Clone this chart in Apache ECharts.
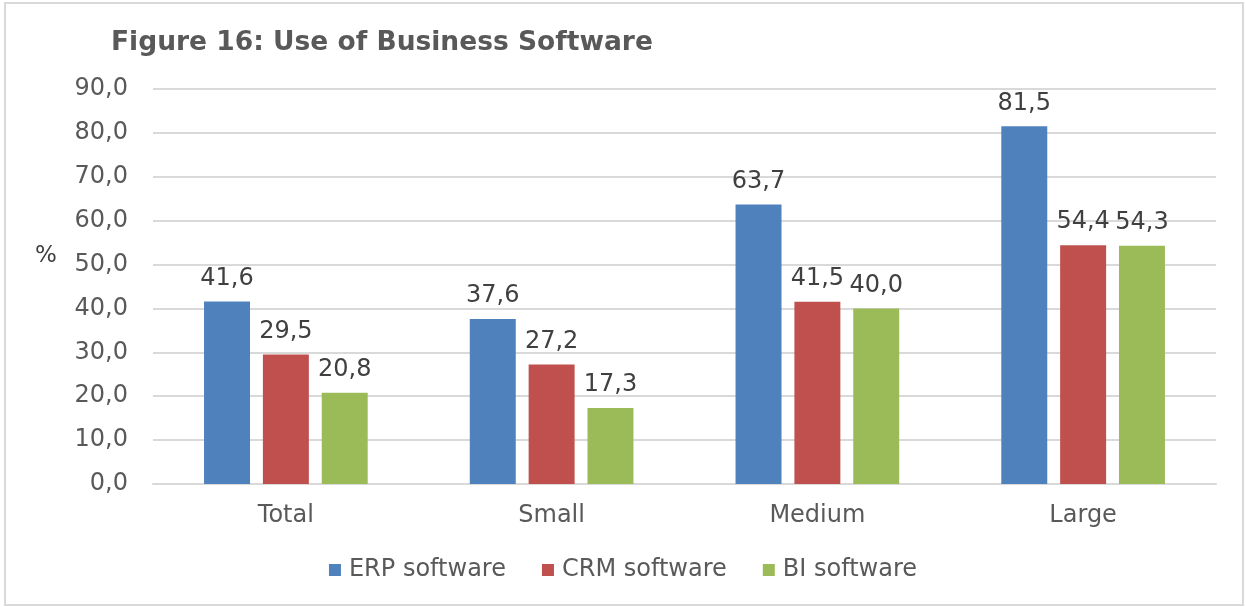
<!DOCTYPE html>
<html lang="en">
<head>
  <meta charset="UTF-8">
  <title>Use of Business Software</title>
  <script src="https://cdn.jsdelivr.net/npm/echarts@6/dist/echarts.min.js"></script>
  <style>
    html, body { margin: 0; padding: 0; background: #fff; }
    #chart { width: 1246px; height: 607px; }
    #frame { position: absolute; left: 4px; top: 2px; width: 1236px; height: 600px; border: 2px solid #d9d9d9; pointer-events: none; }
  </style>
</head>
<body>
  <div id="chart"></div>
  <div id="frame"></div>
  <script>
    // 数据
    var categories = ['Total', 'Small', 'Medium', 'Large'];
    var erpValues = [41.6, 37.6, 63.7, 81.5];
    var crmValues = [29.5, 27.2, 41.5, 54.4];
    var biValues = [20.8, 17.3, 40.0, 54.3];
    var seriesNames = ['ERP software', 'CRM software', 'BI software'];

    var font = "'DejaVu Sans', Verdana, sans-serif";
    function comma(v) { return Number(v).toFixed(1).replace('.', ','); }

    function bar(name, data, color) {
      return {
        name: name,
        type: 'bar',
        data: data,
        barWidth: '17.3%',
        barGap: '28%',
        itemStyle: { color: color },
        label: {
          show: true,
          position: 'top',
          distance: 11,
          color: '#404040',
          fontFamily: font,
          fontSize: 24,
          formatter: function (p) { return comma(p.value); }
        }
      };
    }

    var myChart = echarts.init(document.getElementById('chart'));
    var option = {
      animation: false,
      title: {
        text: 'Figure 16: Use of Business Software',
        left: 106,
        top: 25,
        textStyle: { fontFamily: font, fontSize: 26.5, fontWeight: 'bold', color: '#595959' }
      },
      graphic: [{
        type: 'text',
        left: 35,
        top: 245,
        style: { text: '%', fontFamily: font, fontSize: 23, fill: '#404040' }
      }],
      legend: {
        data: seriesNames,
        top: 553,
        left: 'center',
        icon: 'rect',
        itemWidth: 12,
        itemHeight: 12,
        itemGap: 36,
        textStyle: { fontFamily: font, fontSize: 24, color: '#595959', padding: [0, 0, 0, 3] }
      },
      grid: { left: 153, right: 30, top: 89, bottom: 123 },
      xAxis: {
        type: 'category',
        data: categories,
        axisLine: { lineStyle: { color: '#d9d9d9', width: 2 } },
        axisTick: { show: false },
        axisLabel: { fontFamily: font, fontSize: 24, color: '#595959', margin: 20 }
      },
      yAxis: {
        type: 'value',
        min: 0,
        max: 90,
        interval: 10,
        axisLine: { show: false },
        axisTick: { show: false },
        splitLine: { lineStyle: { color: '#d9d9d9', width: 2 } },
        axisLabel: { fontFamily: font, fontSize: 24, color: '#595959', margin: 25, formatter: comma }
      },
      series: [
        bar(seriesNames[0], erpValues, '#4f81bd'),
        bar(seriesNames[1], crmValues, '#c0504d'),
        bar(seriesNames[2], biValues, '#9bbb59')
      ]
    };
    myChart.setOption(option);
  </script>
</body>
</html>
